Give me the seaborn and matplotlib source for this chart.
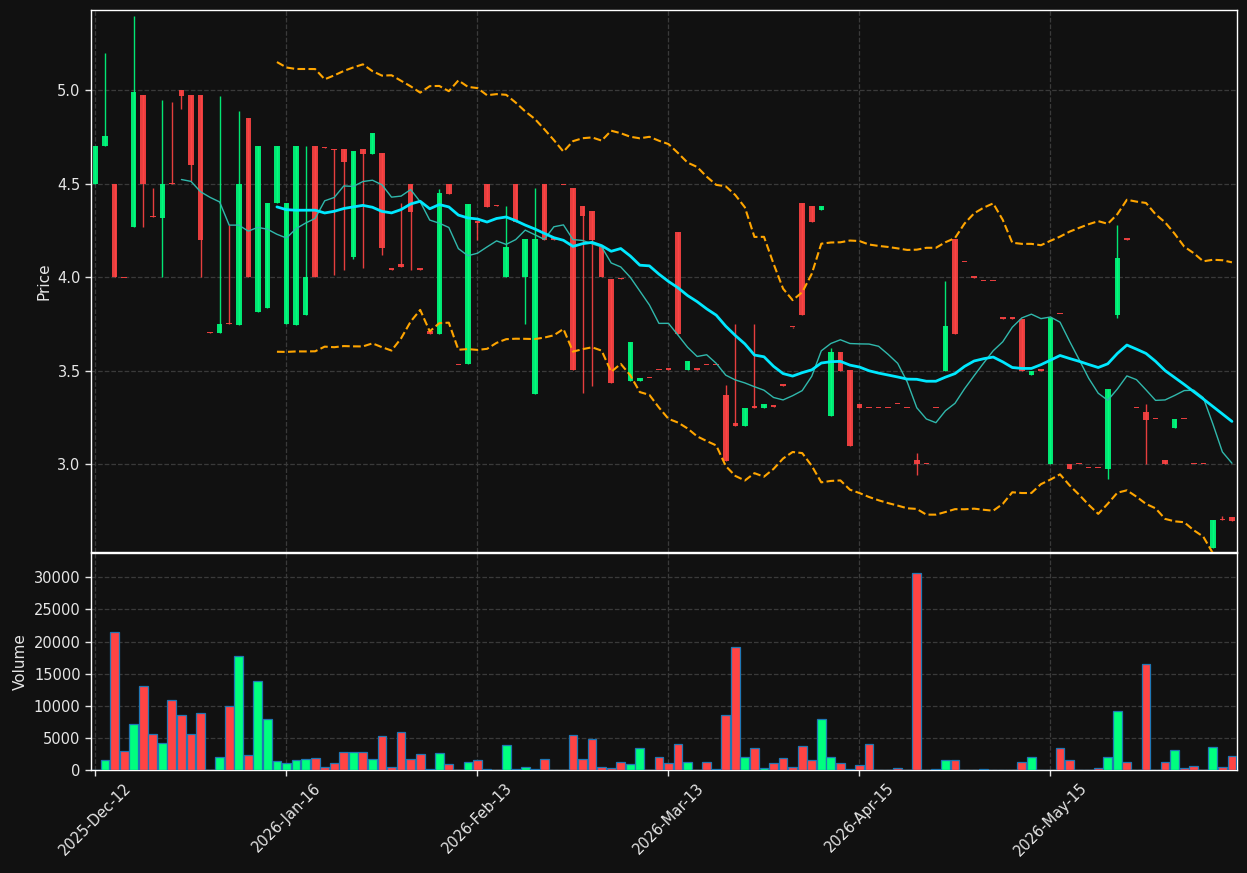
import numpy as np
import pandas as pd
import matplotlib
matplotlib.use("Agg")
import matplotlib.pyplot as plt
import seaborn as sns

# ---------------- data ----------------
opens = [4.50, 4.70, 4.50, 4.00, 4.27, 4.975, 4.325, 4.315, 4.505, 5.00,
         4.975, 4.975, 3.705, 3.703, 3.755, 3.746, 4.85, 3.815, 3.837, 4.396,
         3.75, 3.744, 3.798, 4.70, 4.695, 4.685, 4.686, 4.108, 4.686, 4.66,
         4.664, 4.045, 4.071, 4.50, 4.045, 3.712, 3.695, 4.50, 3.533, 3.538,
         4.30, 4.50, 4.385, 4.00, 4.50, 4.00, 3.378, 4.50, 4.205, 4.494,
         4.48, 4.38, 4.353, 4.164, 3.99, 3.997, 3.447, 3.447, 3.463, 3.506,
         3.509, 4.241, 3.505, 3.509, 3.532, 3.532, 3.37, 3.221, 3.206, 3.31,
         3.30, 3.311, 3.423, 3.736, 4.40, 4.381, 4.361, 3.26, 3.60, 3.503,
         3.321, 3.303, 3.303, 3.303, 3.323, 3.303, 3.022, 3.003, 3.303, 3.499,
         4.204, 4.082, 4.001, 3.981, 3.981, 3.782, 3.782, 3.779, 3.478, 3.503,
         3.00, 3.805, 3.00, 3.003, 2.981, 2.981, 2.974, 3.798, 4.205, 3.303,
         3.279, 3.242, 3.022, 3.194, 3.242, 3.003, 3.003, 2.553, 2.703, 2.718]
highs = [4.70, 5.20, 4.50, 4.00, 5.40, 4.975, 4.48, 4.95, 4.94, 5.00,
         4.975, 4.975, 3.705, 4.97, 4.28, 4.89, 4.85, 4.70, 4.40, 4.70,
         4.40, 4.70, 4.70, 4.70, 4.695, 4.685, 4.686, 4.675, 4.686, 4.77,
         4.664, 4.045, 4.40, 4.50, 4.045, 3.712, 4.47, 4.50, 3.533, 4.39,
         4.30, 4.50, 4.385, 4.38, 4.50, 4.204, 4.48, 4.50, 4.205, 4.494,
         4.48, 4.38, 4.353, 4.164, 3.99, 3.997, 3.652, 3.46, 3.463, 3.506,
         3.509, 4.241, 3.551, 3.509, 3.532, 3.532, 3.426, 3.748, 3.30, 3.748,
         3.32, 3.311, 3.423, 3.736, 4.40, 4.381, 4.381, 3.62, 3.60, 3.503,
         3.321, 3.303, 3.303, 3.303, 3.323, 3.303, 3.058, 3.003, 3.303, 3.978,
         4.204, 4.082, 4.001, 3.981, 3.981, 3.782, 3.782, 3.779, 3.50, 3.503,
         3.783, 3.805, 3.00, 3.003, 2.981, 2.981, 3.40, 4.282, 4.205, 3.303,
         3.32, 3.242, 3.022, 3.239, 3.242, 3.003, 3.003, 2.70, 2.72, 2.718]
lows = [4.50, 4.70, 4.00, 4.00, 4.27, 4.27, 4.32, 4.00, 4.50, 4.90,
        4.515, 4.00, 3.70, 3.703, 3.75, 3.746, 4.00, 3.815, 3.837, 4.396,
        3.75, 3.744, 3.798, 4.00, 4.69, 4.01, 4.04, 4.10, 4.05, 4.66,
        4.12, 4.04, 4.056, 4.04, 4.04, 3.697, 3.695, 4.445, 3.529, 3.538,
        4.20, 4.376, 4.38, 4.00, 4.297, 3.75, 3.378, 4.198, 4.202, 4.491,
        3.503, 3.379, 3.42, 4.00, 3.436, 3.99, 3.447, 3.447, 3.46, 3.503,
        3.506, 3.697, 3.505, 3.506, 3.529, 3.529, 3.019, 3.206, 3.206, 3.30,
        3.30, 3.308, 3.42, 3.728, 3.80, 4.295, 4.361, 3.26, 3.499, 3.099,
        3.30, 3.30, 3.30, 3.30, 3.32, 3.30, 2.94, 3.00, 3.30, 3.499,
        3.697, 4.079, 3.998, 3.978, 3.978, 3.779, 3.779, 3.499, 3.478, 3.50,
        3.00, 3.802, 2.976, 3.00, 2.978, 2.978, 2.918, 3.78, 4.202, 3.30,
        3.00, 3.239, 3.00, 3.194, 3.239, 3.00, 3.00, 2.553, 2.70, 2.697]
closes = [4.70, 4.755, 4.00, 3.995, 4.99, 4.50, 4.32, 4.50, 4.50, 4.97,
          4.60, 4.20, 3.70, 3.75, 3.75, 4.50, 4.00, 4.70, 4.40, 4.70,
          4.40, 4.70, 4.00, 4.00, 4.69, 4.68, 4.617, 4.675, 4.66, 4.77,
          4.155, 4.04, 4.056, 4.35, 4.04, 3.697, 4.45, 4.445, 3.529, 4.39,
          4.29, 4.376, 4.38, 4.161, 4.297, 4.204, 4.204, 4.198, 4.202, 4.491,
          3.503, 4.33, 4.198, 4.00, 3.436, 3.99, 3.652, 3.46, 3.46, 3.503,
          3.506, 3.697, 3.551, 3.506, 3.529, 3.529, 3.019, 3.206, 3.30, 3.30,
          3.32, 3.308, 3.42, 3.733, 3.80, 4.295, 4.381, 3.60, 3.499, 3.099,
          3.30, 3.30, 3.30, 3.30, 3.32, 3.30, 3.00, 3.00, 3.30, 3.738,
          3.697, 4.079, 3.998, 3.978, 3.978, 3.779, 3.779, 3.499, 3.50, 3.50,
          3.783, 3.802, 2.976, 3.00, 2.978, 2.978, 3.40, 4.103, 4.202, 3.30,
          3.237, 3.239, 3.00, 3.239, 3.239, 3.00, 3.00, 2.70, 2.70, 2.697]
volumes = [0, 1500, 21500, 2900, 7100, 13100, 5600, 4150, 10900, 8550,
           5550, 8850, 0, 2100, 9950, 17750, 2300, 13850, 7900, 1350,
           1050, 1500, 1650, 1800, 400, 1100, 2750, 2750, 2750, 1650,
           5250, 400, 5900, 1650, 2450, 100, 2600, 900, 0, 1200,
           1500, 100, 0, 3850, 100, 520, 210, 1770, 0, 0,
           5400, 1650, 4900, 400, 250, 1200, 900, 3400, 0, 2000,
           1050, 4000, 1200, 0, 1200, 100, 8550, 19150, 2100, 3400,
           250, 1050, 1800, 500, 3700, 1500, 7900, 2000, 1050, 100,
           750, 4000, 0, 0, 250, 0, 30700, 0, 100, 1500,
           1500, 0, 0, 100, 0, 0, 0, 1200, 2000, 0,
           0, 3400, 1500, 50, 50, 250, 2000, 9150, 1200, 0,
           16500, 50, 1200, 3050, 250, 550, 0, 3550, 400, 2150]
tick_labels = ["2025-Dec-12", "2026-Jan-16", "2026-Feb-13",
               "2026-Mar-13", "2026-Apr-15", "2026-May-15"]

# ---------------- derived series ----------------
df = pd.DataFrame({"Open": opens, "High": highs, "Low": lows,
                   "Close": closes, "Volume": volumes})
df["idx"] = np.arange(len(df))
df["MA10"] = df["Close"].rolling(10).mean()
df["MA20"] = df["Close"].rolling(20).mean()
sd = df["Close"].rolling(20).std(ddof=0)
df["Upper"] = df["MA20"] + 2 * sd
df["Lower"] = df["MA20"] - 2 * sd

# ---------------- style ----------------
BG = "#111111"
TXT = "#E6E6E6"
GRID = "#3a3a3a"
UP = "#00FF7F"
DOWN = "#FF4444"

sns.set_theme(style="dark")
plt.rcParams.update({
    "font.family": ["DejaVu Sans"],
    "figure.facecolor": BG,
    "axes.facecolor": BG,
    "axes.edgecolor": "white",
    "axes.labelcolor": TXT,
    "xtick.color": TXT,
    "ytick.color": TXT,
    "text.color": TXT,
})

W, H = 1247, 873
fig = plt.figure(figsize=(W / 100, H / 100), dpi=100, facecolor=BG)
ax1 = fig.add_axes([91 / W, 1 - 552 / H, 1146 / W, 542 / H])
ax2 = fig.add_axes([91 / W, 1 - 770 / H, 1146 / W, 217 / H], sharex=ax1)

up = df["Close"] >= df["Open"]
cols = np.where(up, UP, DOWN)

# wicks
ax1.vlines(df["idx"], df["Low"], df["High"], colors=cols, linewidth=1.0,
           alpha=0.9, zorder=3)
# bodies
body_lo = np.minimum(df["Open"], df["Close"])
body_h = np.maximum(np.abs(df["Close"] - df["Open"]), 0.007)
ax1.bar(df["idx"], body_h, bottom=body_lo, width=0.58, color=cols,
        alpha=0.9, linewidth=0, zorder=4)

# moving averages / bands
sns.lineplot(data=df.dropna(subset=["MA10"]), x="idx", y="MA10", ax=ax1,
             color="#30B8AC", linewidth=1.0, zorder=5)
valid = df.dropna(subset=["MA20"])
sns.lineplot(data=valid, x="idx", y="MA20", ax=ax1, color="#00E8FF",
             linewidth=2.0, zorder=6)
sns.lineplot(data=valid, x="idx", y="Upper", ax=ax1, color="#FFA500",
             linewidth=1.5, linestyle="--", zorder=5)
sns.lineplot(data=valid, x="idx", y="Lower", ax=ax1, color="#FFA500",
             linewidth=1.5, linestyle="--", zorder=5)

# volume
ax2.bar(df["idx"], df["Volume"], width=0.92, color=cols,
        edgecolor="#1f77b4", linewidth=0.9, zorder=3)

# ---------------- axes cosmetics ----------------
tick_pos = np.arange(len(tick_labels)) * 20
for ax in (ax1, ax2):
    ax.set_facecolor(BG)
    ax.grid(True, color=GRID, linestyle="--", linewidth=0.9)
    ax.set_axisbelow(True)
    for s in ax.spines.values():
        s.set_color("white")
        s.set_linewidth(1.0)
    ax.tick_params(axis="both", labelsize=10.5, colors=TXT, length=4,
                   width=1, left=True, bottom=True)

ax1.set_xlim(-0.47, 119.53)
ax1.set_ylim(2.53, 5.43)
ax1.set_yticks([3.0, 3.5, 4.0, 4.5, 5.0])
ax1.set_yticklabels(["3.0", "3.5", "4.0", "4.5", "5.0"])
ax1.set_xticks(tick_pos)
ax1.tick_params(axis="x", length=0, labelbottom=False)
ax1.set_xlabel("")
ax1.set_ylabel("Price", fontsize=11, color=TXT)

ax2.set_ylim(0, 33800)
ax2.set_yticks(np.arange(0, 30001, 5000))
ax2.set_xticks(tick_pos)
ax2.set_xticklabels(tick_labels, rotation=45, ha="center")
ax2.set_xlabel("")
ax2.set_ylabel("Volume", fontsize=11, color=TXT)

fig.savefig("out.png", dpi=100, facecolor=BG)
